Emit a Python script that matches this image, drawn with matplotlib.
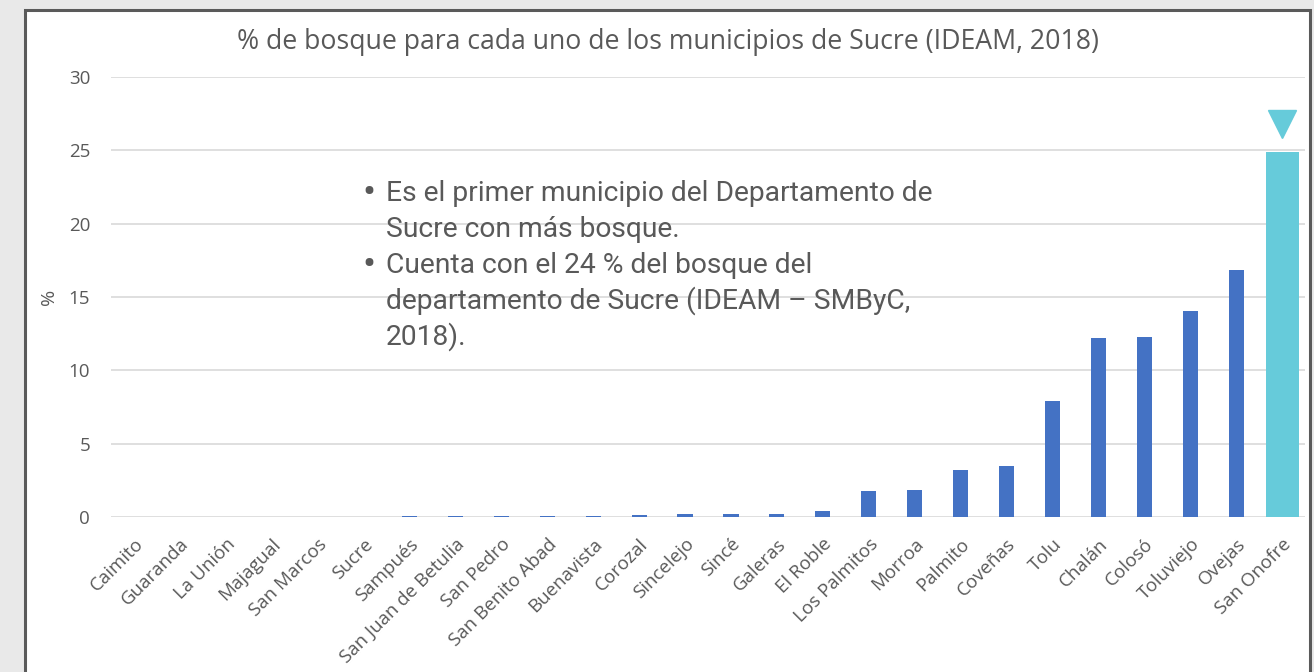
"""Bar chart: % de bosque por municipio de Sucre (IDEAM, 2018)."""

import matplotlib

matplotlib.use("Agg")
import matplotlib.pyplot as plt
from matplotlib import font_manager
from matplotlib.patches import Rectangle

municipios = [
    "Caimito", "Guaranda", "La Unión", "Majagual", "San Marcos", "Sucre",
    "Sampués", "San Juan de Betulia", "San Pedro", "San Benito Abad",
    "Buenavista", "Corozal", "Sincelejo", "Sincé", "Galeras", "El Roble",
    "Los Palmitos", "Morroa", "Palmito", "Coveñas", "Tolu", "Chalán",
    "Colosó", "Toluviejo", "Ovejas", "San Onofre",
]
pct_bosque = [
    0.0, 0.0, 0.0, 0.0, 0.0, 0.0,
    0.05, 0.05, 0.05, 0.05,
    0.05, 0.13, 0.2, 0.2, 0.2, 0.4,
    1.77, 1.84, 3.2, 3.48, 7.9, 12.2,
    12.27, 14.04, 16.84, 24.9,
]
destacado = "San Onofre"
y_ticks = [0, 5, 10, 15, 20, 25, 30]

notas = [
    ["Es el primer municipio del Departamento de", "Sucre con más bosque."],
    ["Cuenta con el 24 % del bosque del", "departamento de Sucre (IDEAM – SMByC,", "2018)."],
]

AZUL = "#4472c4"
CIAN = "#66cbda"
GRIS = "#595959"

plt.rcParams["font.family"] = ["Open Sans", "DejaVu Sans"]

nombres = {f.name for f in font_manager.fontManager.ttflist}
if "Liberation Sans Narrow" in nombres:
    nota_font, nota_size = ["Liberation Sans Narrow", "DejaVu Sans"], 21.5
else:
    nota_font, nota_size = ["Roboto", "DejaVu Sans"], 20.3

fig = plt.figure(figsize=(13.14, 6.72), dpi=100, facecolor="#e9e9e9")

# marco blanco del gráfico
fig.patches.append(Rectangle((25 / 1314, -0.05), 1285 / 1314, 1.05 - 10 / 672,
                             transform=fig.transFigure, facecolor="white",
                             edgecolor="#5a5a5a", linewidth=2.2, zorder=-5))

ax = fig.add_axes([111 / 1314, 1 - 517 / 672, (1305 - 111) / 1314, (517 - 77) / 672])
ax.set_facecolor("none")
ax.set_zorder(2)

x = list(range(len(municipios)))
i_dest = municipios.index(destacado)
normales = [i for i in x if i != i_dest]
ax.bar(normales, [pct_bosque[i] for i in normales], width=0.33, color=AZUL, zorder=3)
ax.bar([i_dest], [pct_bosque[i_dest]], width=0.72, color=CIAN, zorder=3)
ax.plot([i_dest], [pct_bosque[i_dest] + 1.9], marker="v", markersize=20,
        color=CIAN, linestyle="none", clip_on=False, zorder=4)

ax.set_xlim(-0.5, len(municipios) - 0.5)
ax.set_ylim(0, 30)
ax.set_yticks(y_ticks)
ax.yaxis.grid(True, color="#d9d9d9", linewidth=1.2, zorder=0)
ax.set_axisbelow(True)
for s in ax.spines.values():
    s.set_visible(False)
ax.tick_params(axis="both", length=0, labelsize=13.5, colors=GRIS)
ax.tick_params(axis="y", pad=15)
ax.set_xticks(x)
ax.set_xticklabels(municipios, rotation=45, ha="right", rotation_mode="anchor")
ax.tick_params(axis="x", pad=13)
ax.set_ylabel("%", fontsize=14, color=GRIS, labelpad=8)

fig.text(668 / 1314, 1 - 42 / 672,
         "% de bosque para cada uno de los municipios de Sucre (IDEAM, 2018)",
         ha="center", va="center", fontsize=19.2, color=GRIS)

# notas con viñetas, una línea de texto cada 36 px
base = 201
for nota in notas:
    fig.text(369 / 1314, 1 - (base - 8) / 672, "•", ha="center", va="center",
             fontsize=28, color=GRIS, family=nota_font, zorder=5)
    for linea in nota:
        fig.text(386 / 1314, 1 - base / 672, linea, ha="left", va="baseline",
                 fontsize=nota_size, color=GRIS, family=nota_font, zorder=5)
        base += 36

fig.savefig("out.png", dpi=100, facecolor=fig.get_facecolor())
